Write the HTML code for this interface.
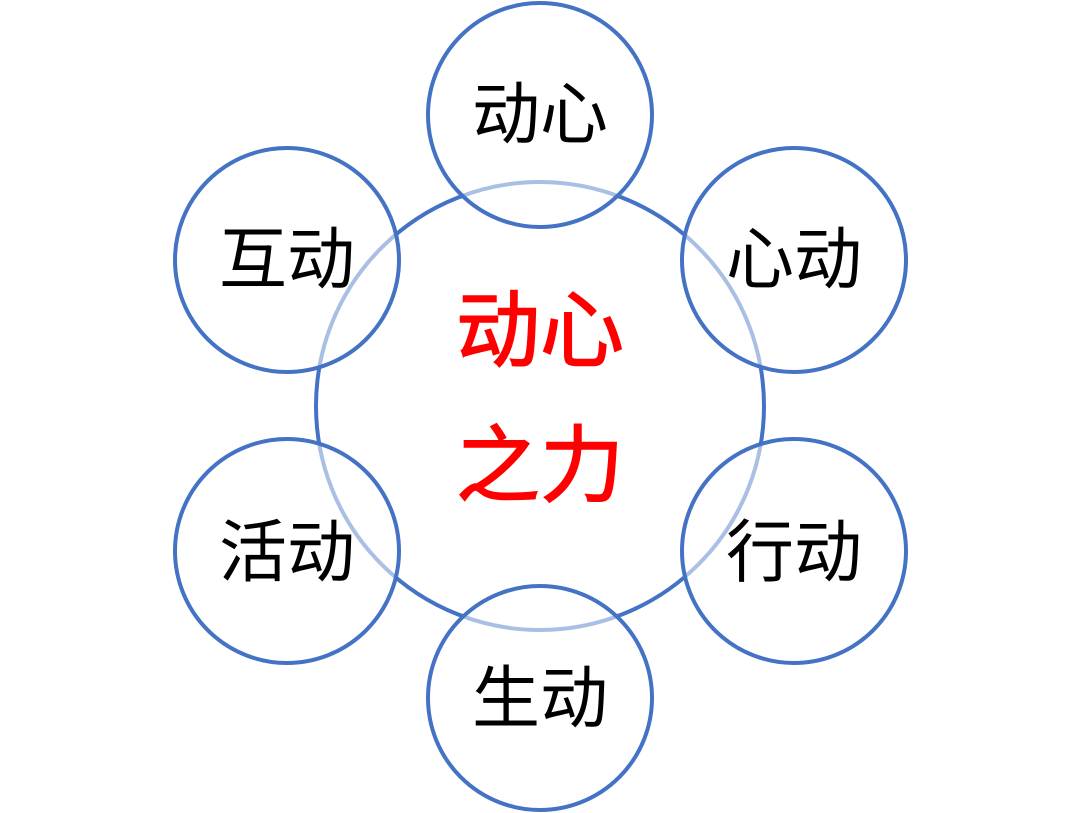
<!DOCTYPE html>
<html><head><meta charset="utf-8"><style>
html,body{margin:0;padding:0;background:#fff;}
svg{display:block}
</style></head><body>
<svg width="1080" height="813" viewBox="0 0 1080 813" xmlns="http://www.w3.org/2000/svg">
<circle cx="540" cy="406" r="224" fill="none" stroke="#4472C4" stroke-width="4"/>
<g fill="#fff" fill-opacity="0.55" stroke="#4472C4" stroke-width="4">
<circle cx="540" cy="115" r="112"/>
<circle cx="794" cy="260" r="112"/>
<circle cx="794" cy="551" r="112"/>
<circle cx="540" cy="698" r="112"/>
<circle cx="287" cy="551" r="112"/>
<circle cx="287" cy="260" r="112"/>
</g>
<g font-family="'Liberation Sans','Noto Sans CJK SC',sans-serif" font-size="68" text-anchor="middle" fill="#000">
<text x="540" y="138">动心</text>
<text x="794" y="283">心动</text>
<text x="794" y="576">行动</text>
<text x="540" y="722">生动</text>
<text x="287" y="576">活动</text>
<text x="287" y="283">互动</text>
</g>
<g font-family="'Liberation Sans','Noto Sans CJK SC',sans-serif" font-size="84" text-anchor="middle" fill="#FF0000" stroke="#FF0000" stroke-width="1.5">
<text x="540" y="360">动心</text>
<text x="540" y="495">之力</text>
</g>
</svg>
</body></html>
